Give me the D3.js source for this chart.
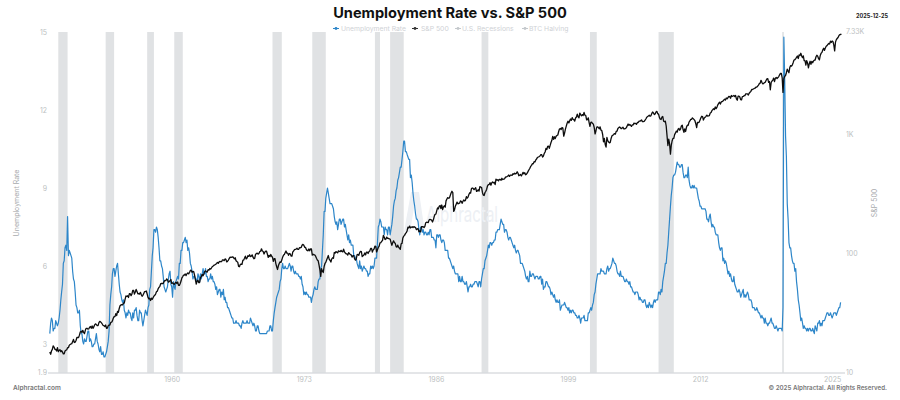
<!DOCTYPE html>
<html>
<head>
<meta charset="utf-8">
<script src="https://cdnjs.cloudflare.com/ajax/libs/d3/7.8.5/d3.min.js"></script>
<style>
  html, body { margin: 0; padding: 0; background: #fff; }
  svg { display: block; font-family: "Inter", "Liberation Sans", sans-serif; }
</style>
</head>
<body>
<div id="chart"></div>
<script>
// monthly, first value is January 1948
var unemployment = [
  3.4,3.8,4.0,3.9,3.5,3.6,3.6,3.9,3.8,3.7,3.8,4.0,
  4.3,4.7,5.0,5.3,6.1,6.2,6.7,6.8,6.6,7.9,6.4,6.6,
  6.5,6.4,6.3,5.8,5.5,5.4,5.0,4.5,4.4,4.2,4.2,4.3,
  3.7,3.4,3.4,3.1,3.0,3.2,3.1,3.1,3.3,3.5,3.5,3.1,
  3.2,3.1,2.9,2.9,3.0,3.0,3.2,3.4,3.1,3.0,2.8,2.7,
  2.9,2.6,2.6,2.7,2.5,2.5,2.6,2.7,2.9,3.1,3.5,4.5,
  4.9,5.2,5.7,5.9,5.9,5.6,5.8,6.0,6.1,5.7,5.3,5.0,
  4.9,4.7,4.6,4.7,4.3,4.2,4.0,4.2,4.1,4.3,4.2,4.2,
  4.0,3.9,4.2,4.0,4.3,4.3,4.4,4.1,3.9,3.9,4.3,4.2,
  4.2,3.9,3.7,3.9,4.1,4.3,4.2,4.1,4.4,4.5,5.1,5.2,
  5.8,6.4,6.7,7.4,7.4,7.3,7.5,7.4,7.1,6.7,6.2,6.2,
  6.0,5.9,5.6,5.2,5.1,5.0,5.1,5.2,5.5,5.7,5.8,5.3,
  5.2,4.8,5.4,5.2,5.1,5.4,5.5,5.6,5.5,6.1,6.1,6.6,
  6.6,6.9,6.9,7.0,7.1,6.9,7.0,6.6,6.7,6.5,6.1,6.0,
  5.8,5.5,5.6,5.6,5.5,5.5,5.4,5.7,5.6,5.4,5.7,5.5,
  5.7,5.9,5.7,5.7,5.9,5.6,5.6,5.4,5.5,5.5,5.7,5.5,
  5.6,5.4,5.4,5.3,5.1,5.2,4.9,5.0,5.1,5.1,4.8,5.0,
  4.9,5.1,4.7,4.8,4.6,4.6,4.4,4.4,4.3,4.2,4.1,4.0,
  4.0,3.8,3.8,3.8,3.9,3.8,3.8,3.8,3.7,3.7,3.6,3.8,
  3.9,3.8,3.8,3.8,3.8,3.9,3.8,3.8,3.8,4.0,3.9,3.8,
  3.7,3.8,3.7,3.5,3.5,3.7,3.7,3.5,3.4,3.4,3.4,3.4,
  3.4,3.4,3.4,3.4,3.4,3.5,3.5,3.5,3.7,3.7,3.5,3.5,
  3.9,4.2,4.4,4.6,4.8,4.9,5.0,5.1,5.4,5.5,5.9,6.1,
  5.9,5.9,6.0,5.9,5.9,5.9,6.0,6.1,6.0,5.8,6.0,6.0,
  5.8,5.7,5.8,5.7,5.7,5.7,5.6,5.6,5.5,5.6,5.3,5.2,
  4.9,5.0,4.9,5.0,4.9,4.9,4.8,4.8,4.8,4.6,4.8,4.9,
  5.1,5.2,5.1,5.1,5.1,5.4,5.5,5.5,5.9,6.0,6.6,7.2,
  8.1,8.1,8.6,8.8,9.0,8.8,8.6,8.4,8.4,8.4,8.3,8.2,
  7.9,7.7,7.6,7.7,7.4,7.6,7.8,7.8,7.6,7.7,7.8,7.8,
  7.5,7.6,7.4,7.2,7.0,7.2,6.9,7.0,6.8,6.8,6.8,6.4,
  6.4,6.3,6.3,6.1,6.0,5.9,6.2,5.9,6.0,5.8,5.9,6.0,
  5.9,5.9,5.8,5.8,5.6,5.7,5.7,6.0,5.9,6.0,5.9,6.0,
  6.3,6.3,6.3,6.9,7.5,7.6,7.8,7.7,7.5,7.5,7.5,7.2,
  7.5,7.4,7.4,7.2,7.5,7.5,7.2,7.4,7.6,7.9,8.3,8.5,
  8.6,8.9,9.0,9.3,9.4,9.6,9.8,9.8,10.1,10.4,10.8,10.8,
  10.4,10.4,10.3,10.2,10.1,10.1,9.4,9.5,9.2,8.8,8.5,8.3,
  8.0,7.8,7.8,7.7,7.4,7.2,7.5,7.5,7.3,7.4,7.2,7.3,
  7.3,7.2,7.2,7.3,7.2,7.4,7.4,7.1,7.1,7.1,7.0,7.0,
  6.7,7.2,7.2,7.1,7.2,7.2,7.0,6.9,7.0,7.0,6.9,6.6,
  6.6,6.6,6.6,6.3,6.3,6.2,6.1,6.0,5.9,6.0,5.8,5.7,
  5.7,5.7,5.7,5.4,5.6,5.4,5.4,5.6,5.4,5.4,5.3,5.3,
  5.4,5.2,5.0,5.2,5.2,5.3,5.2,5.2,5.3,5.3,5.4,5.4,
  5.4,5.3,5.2,5.4,5.4,5.2,5.5,5.7,5.9,5.9,6.2,6.3,
  6.4,6.6,6.8,6.7,6.9,6.9,6.8,6.9,6.9,7.0,7.0,7.3,
  7.3,7.4,7.4,7.4,7.6,7.8,7.7,7.6,7.6,7.3,7.4,7.4,
  7.3,7.1,7.0,7.1,7.1,7.0,6.9,6.8,6.7,6.8,6.6,6.5,
  6.6,6.6,6.5,6.4,6.1,6.1,6.1,6.0,5.9,5.8,5.6,5.5,
  5.6,5.4,5.4,5.8,5.6,5.6,5.7,5.7,5.6,5.5,5.6,5.6,
  5.6,5.5,5.5,5.6,5.6,5.3,5.5,5.1,5.2,5.2,5.4,5.4,
  5.3,5.2,5.2,5.1,4.9,5.0,4.9,4.8,4.9,4.7,4.6,4.7,
  4.6,4.6,4.7,4.3,4.4,4.5,4.5,4.5,4.6,4.5,4.4,4.4,
  4.3,4.4,4.2,4.3,4.2,4.3,4.3,4.2,4.2,4.1,4.1,4.0,
  4.0,4.1,4.0,3.8,4.0,4.0,4.0,4.1,3.9,3.9,3.9,3.9,
  4.2,4.2,4.3,4.4,4.3,4.5,4.6,4.9,5.0,5.3,5.5,5.7,
  5.7,5.7,5.7,5.9,5.8,5.8,5.8,5.7,5.7,5.7,5.9,6.0,
  5.8,5.9,5.9,6.0,6.1,6.3,6.2,6.1,6.1,6.0,5.8,5.7,
  5.7,5.6,5.8,5.6,5.6,5.6,5.5,5.4,5.4,5.5,5.4,5.4,
  5.3,5.4,5.2,5.2,5.1,5.0,5.0,4.9,5.0,5.0,5.0,4.9,
  4.7,4.8,4.7,4.7,4.6,4.6,4.7,4.7,4.5,4.4,4.5,4.4,
  4.6,4.5,4.4,4.5,4.4,4.6,4.7,4.6,4.7,4.7,4.7,5.0,
  5.0,4.9,5.1,5.0,5.4,5.6,5.8,6.1,6.1,6.5,6.8,7.3,
  7.8,8.3,8.7,9.0,9.4,9.5,9.5,9.6,9.8,10.0,9.9,9.9,
  9.8,9.8,9.9,9.9,9.6,9.4,9.4,9.5,9.5,9.4,9.8,9.3,
  9.1,9.0,9.0,9.1,9.0,9.1,9.0,9.0,9.0,8.8,8.6,8.5,
  8.3,8.3,8.2,8.2,8.2,8.2,8.2,8.1,7.8,7.8,7.7,7.9,
  8.0,7.7,7.5,7.6,7.5,7.5,7.3,7.2,7.2,7.2,6.9,6.7,
  6.6,6.7,6.7,6.2,6.3,6.1,6.2,6.1,5.9,5.7,5.8,5.6,
  5.7,5.5,5.4,5.4,5.6,5.3,5.2,5.1,5.0,5.0,5.1,5.0,
  4.8,4.9,5.0,5.1,4.8,4.9,4.8,4.9,5.0,4.9,4.7,4.7,
  4.7,4.6,4.4,4.4,4.4,4.3,4.3,4.4,4.3,4.2,4.2,4.1,
  4.0,4.1,4.0,4.0,3.8,4.0,3.8,3.8,3.7,3.8,3.8,3.9,
  4.0,3.8,3.8,3.7,3.6,3.6,3.7,3.6,3.5,3.6,3.6,3.6,
  3.6,3.5,4.4,14.8,13.2,11.0,10.2,8.4,7.8,6.9,6.7,6.7,
  6.4,6.2,6.1,6.1,5.8,5.9,5.4,5.1,4.7,4.5,4.2,3.9,
  4.0,3.8,3.6,3.7,3.6,3.6,3.5,3.6,3.5,3.6,3.6,3.5,
  3.5,3.6,3.5,3.4,3.7,3.6,3.5,3.8,3.8,3.9,3.7,3.8,
  3.7,3.9,3.9,3.9,4.0,4.1,4.2,4.2,4.1,4.1,4.2,4.1,
  4.0,4.1,4.2,4.2,4.2,4.1,4.2,4.3,4.4,4.4,4.6
];

var sp500 = [
  14.7,14.1,15.0,15.5,16.6,16.2,15.5,15.5,15.0,16.0,14.8,15.2,
  15.4,14.8,15.1,14.7,14.2,14.2,15.0,15.2,15.4,16.0,16.0,16.8,
  17.0,17.2,17.3,18.0,18.8,17.7,17.8,18.4,19.5,19.5,19.5,20.4,
  21.7,22.0,21.5,22.4,21.5,21.0,22.4,23.3,23.3,22.9,23.0,23.8,
  24.1,23.3,24.4,23.3,23.9,24.9,25.4,25.0,24.5,24.5,26.0,26.6,
  26.4,25.9,25.3,24.6,24.5,24.1,24.8,23.3,23.4,24.5,24.8,24.8,
  26.1,26.2,26.9,28.3,29.2,29.2,30.9,29.8,32.3,31.7,34.2,36.0,
  36.6,36.8,36.6,37.9,38.0,41.0,43.5,43.2,43.7,42.3,45.5,45.5,
  43.8,45.3,48.5,48.4,45.2,47.0,49.4,47.5,45.4,45.6,45.1,46.7,
  44.7,43.3,44.1,45.7,47.4,47.4,47.9,45.2,42.4,41.1,41.7,39.9,
  41.7,40.8,42.1,43.4,44.1,45.2,47.2,47.8,50.1,51.3,52.5,55.2,
  55.4,55.4,55.4,57.6,58.7,58.5,60.5,59.6,56.9,57.5,58.3,59.9,
  55.6,56.1,55.3,54.4,55.8,56.9,55.5,57.0,53.5,53.4,55.5,58.1,
  61.8,63.4,65.1,65.3,66.6,64.6,66.8,68.1,66.7,68.6,71.3,71.6,
  68.8,70.0,69.6,65.2,59.6,54.8,58.2,59.1,56.3,56.5,62.3,63.1,
  66.2,64.3,66.6,70.0,70.8,69.4,69.1,72.5,71.7,74.0,73.2,75.0,
  77.0,77.8,79.0,79.5,80.4,81.7,83.2,81.8,84.2,84.9,84.4,84.8,
  87.6,87.4,86.2,89.1,88.4,84.1,85.3,87.2,90.0,92.4,91.6,92.4,
  92.9,91.2,89.2,91.1,86.1,84.7,83.6,77.1,76.6,80.2,80.5,80.3,
  86.6,87.4,90.2,94.0,89.1,90.6,94.8,93.6,96.7,93.3,94.0,96.5,
  92.2,89.4,90.2,97.5,98.7,99.6,97.7,98.9,102.7,103.4,108.4,103.9,
  103.0,98.1,101.5,103.7,103.5,97.7,91.8,95.5,93.1,97.2,93.8,92.1,
  85.0,89.5,89.6,81.5,76.6,72.7,78.1,81.5,84.2,83.3,87.2,92.2,
  95.9,97.0,100.3,103.9,99.6,99.7,95.6,99.0,98.3,94.2,94.0,102.1,
  103.9,106.6,107.2,107.7,109.5,107.1,107.4,111.1,110.6,111.6,116.7,118.1,
  116.0,111.7,111.5,107.0,105.0,104.3,108.2,104.3,108.4,108.3,96.0,97.6,
  96.6,96.2,94.0,90.3,87.3,86.0,79.3,72.2,63.5,73.9,70.0,68.6,
  77.0,81.6,83.4,87.3,91.2,95.2,88.8,86.9,83.9,89.0,91.2,90.2,
  100.9,99.7,102.8,101.6,100.2,104.3,103.4,102.9,105.2,102.9,102.1,107.5,
  102.0,99.8,98.4,98.4,96.1,100.5,98.9,96.8,96.5,92.3,94.8,95.1,
  89.3,87.0,89.2,97.0,97.2,95.5,100.7,103.3,102.5,93.2,94.7,96.1,
  99.9,96.3,101.6,101.8,99.1,102.9,103.8,109.3,109.3,101.8,106.2,107.9,
  114.2,113.7,102.1,106.3,111.2,114.2,121.7,122.4,125.5,127.5,140.5,135.8,
  129.6,131.3,136.0,132.8,132.6,131.2,130.9,122.8,116.2,121.9,126.4,122.6,
  120.4,113.1,112.0,116.4,111.9,109.6,107.1,119.5,120.4,133.7,138.5,140.6,
  145.3,148.1,153.0,164.4,162.4,168.1,162.6,164.4,166.1,163.6,166.4,164.9,
  163.4,157.1,159.2,160.1,150.6,153.2,150.7,166.7,166.1,166.1,163.6,167.2,
  179.6,181.2,180.7,179.8,189.6,191.9,190.9,188.6,182.1,189.8,202.2,211.3,
  211.8,226.9,238.9,235.5,247.4,250.8,236.1,252.9,231.3,244.0,249.2,242.2,
  274.1,284.2,291.7,288.4,290.1,304.0,318.7,329.8,321.8,224.0,230.3,247.1,
  257.1,267.8,258.9,261.3,262.2,273.5,272.0,261.5,271.9,279.0,273.7,277.7,
  297.5,288.9,294.9,309.6,320.5,318.0,346.1,351.5,349.2,340.4,346.0,353.4,
  329.1,331.9,339.9,330.8,361.2,358.0,356.2,322.6,306.1,304.0,322.2,330.2,
  343.9,367.1,375.2,375.3,389.8,371.2,387.8,395.4,387.9,392.5,375.2,417.1,
  408.8,412.7,403.7,415.0,415.4,408.1,424.2,414.0,417.8,418.7,431.4,435.7,
  438.8,443.4,451.7,440.2,450.2,450.5,448.1,463.6,458.9,467.8,461.8,466.5,
  481.6,467.1,445.8,450.9,456.5,444.3,458.3,475.5,462.7,472.4,454.0,459.3,
  470.4,487.4,500.7,514.7,533.4,544.8,562.1,561.9,584.4,581.5,605.4,615.9,
  636.0,640.4,645.5,654.2,669.1,670.6,640.0,652.0,687.3,705.3,757.0,740.7,
  786.2,790.8,757.1,801.3,848.3,885.1,954.3,899.5,947.3,914.6,955.4,970.4,
  980.3,1049.3,1101.8,1111.8,1090.8,1133.8,1120.7,957.3,1017.0,1098.7,1163.6,1229.2,
  1279.6,1238.3,1286.4,1335.2,1301.8,1372.7,1328.7,1320.4,1282.7,1362.9,1388.9,1469.3,
  1394.5,1366.4,1498.6,1452.4,1420.6,1454.6,1430.8,1517.7,1436.5,1429.4,1315.0,1320.3,
  1366.0,1239.9,1160.3,1249.5,1255.8,1224.4,1211.2,1133.6,1000.0,1059.8,1139.5,1148.1,
  1130.2,1106.7,1147.4,1076.9,1067.1,989.8,860.0,916.1,815.3,776.0,936.3,879.8,
  855.7,841.2,848.2,916.9,963.6,974.5,990.3,1008.0,996.0,1050.7,1058.2,1111.9,
  1131.1,1144.9,1126.2,1107.3,1120.7,1140.8,1101.7,1104.2,1114.6,1130.2,1173.8,1211.9,
  1181.3,1203.6,1180.6,1156.9,1191.5,1191.3,1234.2,1220.3,1228.8,1207.0,1249.5,1248.3,
  1280.1,1280.7,1294.9,1310.6,1270.1,1270.2,1276.7,1303.8,1335.9,1377.9,1400.6,1418.3,
  1438.2,1406.8,1420.9,1482.4,1530.6,1503.4,1455.3,1474.0,1526.8,1549.4,1481.1,1468.4,
  1378.6,1330.6,1322.7,1385.6,1400.4,1280.0,1267.4,1282.8,1166.4,968.8,800.0,903.3,
  825.9,676.0,797.9,872.8,919.1,919.3,987.5,1020.6,1057.1,1036.2,1095.6,1115.1,
  1073.9,1104.5,1169.4,1186.7,1089.4,1030.7,1101.6,1049.3,1141.2,1183.3,1180.6,1257.6,
  1286.1,1327.2,1325.8,1363.6,1345.2,1320.6,1292.3,1218.9,1131.4,1253.3,1247.0,1257.6,
  1312.4,1365.7,1408.5,1397.9,1310.3,1362.2,1379.3,1406.6,1440.7,1412.2,1416.2,1426.2,
  1498.1,1514.7,1569.2,1597.6,1630.7,1606.3,1685.7,1633.0,1681.6,1756.5,1805.8,1848.4,
  1782.6,1859.5,1872.3,1884.0,1923.6,1960.2,1930.7,2003.4,1972.3,2018.1,2067.6,2058.9,
  1995.0,2104.5,2067.9,2085.5,2107.4,2063.1,2103.8,1972.2,1920.0,2079.4,2080.4,2043.9,
  1940.2,1932.2,2059.7,2065.3,2097.0,2098.9,2173.6,2171.0,2168.3,2126.2,2198.8,2238.8,
  2278.9,2363.6,2362.7,2384.2,2411.8,2423.4,2470.3,2471.7,2519.4,2575.3,2647.6,2673.6,
  2823.8,2713.8,2640.9,2648.1,2705.3,2718.4,2816.3,2901.5,2914.0,2711.7,2760.2,2351.0,
  2704.1,2784.5,2834.4,2945.8,2752.1,2941.8,2980.4,2926.5,2976.7,3037.6,3141.0,3230.8,
  3225.5,2954.2,2237.0,2912.4,3044.3,3100.3,3271.1,3500.3,3363.0,3270.0,3621.6,3756.1,
  3714.2,3811.2,3972.9,4181.2,4204.1,4297.5,4395.3,4522.7,4307.5,4605.4,4567.0,4766.2,
  4515.6,4373.9,4530.4,4131.9,4132.2,3785.4,4130.3,3955.0,3585.6,3872.0,4080.1,3839.5,
  4076.6,3970.2,4109.3,4169.5,4179.8,4450.4,4589.0,4507.7,4288.1,4193.8,4567.8,4769.8,
  4845.7,5096.3,5254.4,5035.7,5277.5,5460.5,5522.3,5648.4,5762.5,5705.5,6032.4,5881.6,
  6040.5,5954.5,5611.9,4982.0,5911.7,6205.0,6339.4,6460.3,6688.5,6840.2,6849.1,6930.0
];

var recessionStarts = ["1948-11","1953-07","1957-08","1960-04","1969-12","1973-11","1980-01","1981-07","1990-07","2001-03","2007-12","2020-02"];
var recessionEnds = ["1949-10","1954-05","1958-04","1961-02","1970-11","1975-03","1980-07","1982-11","1991-03","2001-11","2009-06","2020-04"];

var xTickYears = [1960, 1973, 1986, 1999, 2012, 2025];
var leftTicks = [1.9, 3, 6, 9, 12, 15];
var rightTicks = [10, 100, 1000, 7330];
var rightTickLabels = ["10", "100", "1K", "7.33K"];
var legendNames = ["Unemployment Rate", "S&P 500", "U.S. Recessions", "BTC Halving"];
var legendColors = ["#2d86c9", "#333333", "#c4c8cc", "#c4c8cc"];

var width = 900, height = 400;
var firstMonth = new Date(Date.UTC(1948, 0, 1));
var parseMonth = d3.utcParse("%Y-%m");

var svg = d3.select("#chart").append("svg")
  .attr("width", width)
  .attr("height", height);

var x = d3.scaleUtc()
  .domain([firstMonth, new Date(Date.UTC(2026, 0, 1))])
  .range([49.8, 842.3]);
var yLeft = d3.scaleLinear().domain([1.9, 15]).range([372.6, 32]);
var yRight = d3.scaleLog().domain([10, 7330]).range([372, 31]);

// recession bands
svg.append("g").selectAll("rect")
  .data(recessionStarts)
  .join("rect")
  .attr("x", function(d) { return x(parseMonth(d)); })
  .attr("y", yLeft(15))
  .attr("width", function(d, i) { return x(parseMonth(recessionEnds[i])) - x(parseMonth(d)); })
  .attr("height", yLeft(1.9) - yLeft(15))
  .attr("fill", "#e0e2e4");

// watermark
var mark = svg.append("g").attr("fill", "#edf0f4");
mark.append("path")
  .attr("d", d3.line()([[404, 232], [411, 192], [419, 192], [424, 226], [418, 226], [415, 202], [410, 232]]));
mark.append("text")
  .attr("x", 426)
  .attr("y", 222)
  .attr("font-size", 22)
  .attr("textLength", 72)
  .attr("lengthAdjust", "spacingAndGlyphs")
  .text("Alphractal");

// x axis
var xAxis = svg.append("g")
  .attr("transform", "translate(0,373)")
  .call(d3.axisBottom(x)
    .tickValues(xTickYears.map(function(y) { return new Date(Date.UTC(y, 0, 1)); }))
    .tickFormat(d3.utcFormat("%Y"))
    .tickSize(0)
    .tickPadding(4));
xAxis.select(".domain").attr("stroke", "#c9ccd1").attr("d", "M48,0H845");
xAxis.selectAll("text").attr("fill", "#bdbfc2").attr("font-size", 7).attr("font-family", "Inter");

// y axes
var leftAxis = svg.append("g")
  .attr("transform", "translate(47,0)")
  .call(d3.axisLeft(yLeft).tickValues(leftTicks).tickFormat(function(d) { return d; }).tickSize(0).tickPadding(0));
leftAxis.select(".domain").remove();
leftAxis.selectAll("text").attr("fill", "#bdbfc2").attr("font-size", 7).attr("font-family", "Inter");

var rightAxis = svg.append("g")
  .attr("transform", "translate(846,0)")
  .call(d3.axisRight(yRight).tickValues(rightTicks).tickFormat(function(d, i) { return rightTickLabels[i]; }).tickSize(0).tickPadding(0));
rightAxis.select(".domain").remove();
rightAxis.selectAll("text").attr("fill", "#bdbfc2").attr("font-size", 7).attr("font-family", "Inter");

// lines
var monthDate = function(i) { return d3.utcMonth.offset(firstMonth, i); };
svg.append("path")
  .attr("fill", "none")
  .attr("stroke", "#2d86c9")
  .attr("stroke-width", 1.2)
  .attr("stroke-linejoin", "round")
  .attr("d", d3.line().x(function(d, i) { return x(monthDate(i)); }).y(function(d) { return yLeft(d); })(unemployment));
svg.append("path")
  .attr("fill", "none")
  .attr("stroke", "#0d0d0d")
  .attr("stroke-width", 1.3)
  .attr("stroke-linejoin", "round")
  .attr("d", d3.line().x(function(d, i) { return x(monthDate(i)); }).y(function(d) { return yRight(d); })(sp500));

// axis titles
svg.append("text")
  .attr("transform", "translate(19,203) rotate(-90)")
  .attr("text-anchor", "middle")
  .attr("fill", "#a9abae")
  .attr("font-size", 7)
  .text("Unemployment Rate");
svg.append("text")
  .attr("transform", "translate(877,203) rotate(-90)")
  .attr("text-anchor", "middle")
  .attr("fill", "#a9abae")
  .attr("font-size", 7)
  .text("S&P 500");

// title and corner notes
svg.append("text")
  .attr("x", 450)
  .attr("y", 18)
  .attr("text-anchor", "middle")
  .attr("font-weight", "bold")
  .attr("font-size", 14.6)
  .attr("fill", "#111")
  .text("Unemployment Rate vs. S&P 500");
svg.append("text")
  .attr("x", 888)
  .attr("y", 18)
  .attr("text-anchor", "end")
  .attr("font-weight", "bold")
  .attr("font-size", 5.5)
  .attr("fill", "#222")
  .text("2025-12-25");
svg.append("text")
  .attr("x", 13)
  .attr("y", 390)
  .attr("font-size", 6.5)
  .attr("font-weight", 600)
  .attr("fill", "#777")
  .text("Alphractal.com");
svg.append("text")
  .attr("x", 887)
  .attr("y", 390)
  .attr("text-anchor", "end")
  .attr("font-size", 6.2)
  .attr("font-weight", 600)
  .attr("fill", "#777")
  .text("© 2025 Alphractal. All Rights Reserved.");

// legend
var legendX = [333, 412, 455, 522];
var legendTextX = [8, 9, 7, 7];
var legend = svg.append("g").selectAll("g")
  .data(legendNames)
  .join("g")
  .attr("transform", function(d, i) { return "translate(" + legendX[i] + ",28.5)"; });
legend.append("line")
  .attr("x1", 0).attr("x2", 6)
  .attr("stroke", function(d, i) { return legendColors[i]; })
  .attr("stroke-width", 1);
legend.append("circle")
  .attr("cx", 3)
  .attr("r", 1.4)
  .attr("fill", function(d, i) { return legendColors[i]; });
legend.append("text")
  .attr("x", function(d, i) { return legendTextX[i]; })
  .attr("y", 2.4)
  .attr("font-size", 6.8)
  .attr("fill", "#cfd2d6")
  .text(function(d) { return d; });
</script>
</body>
</html>
